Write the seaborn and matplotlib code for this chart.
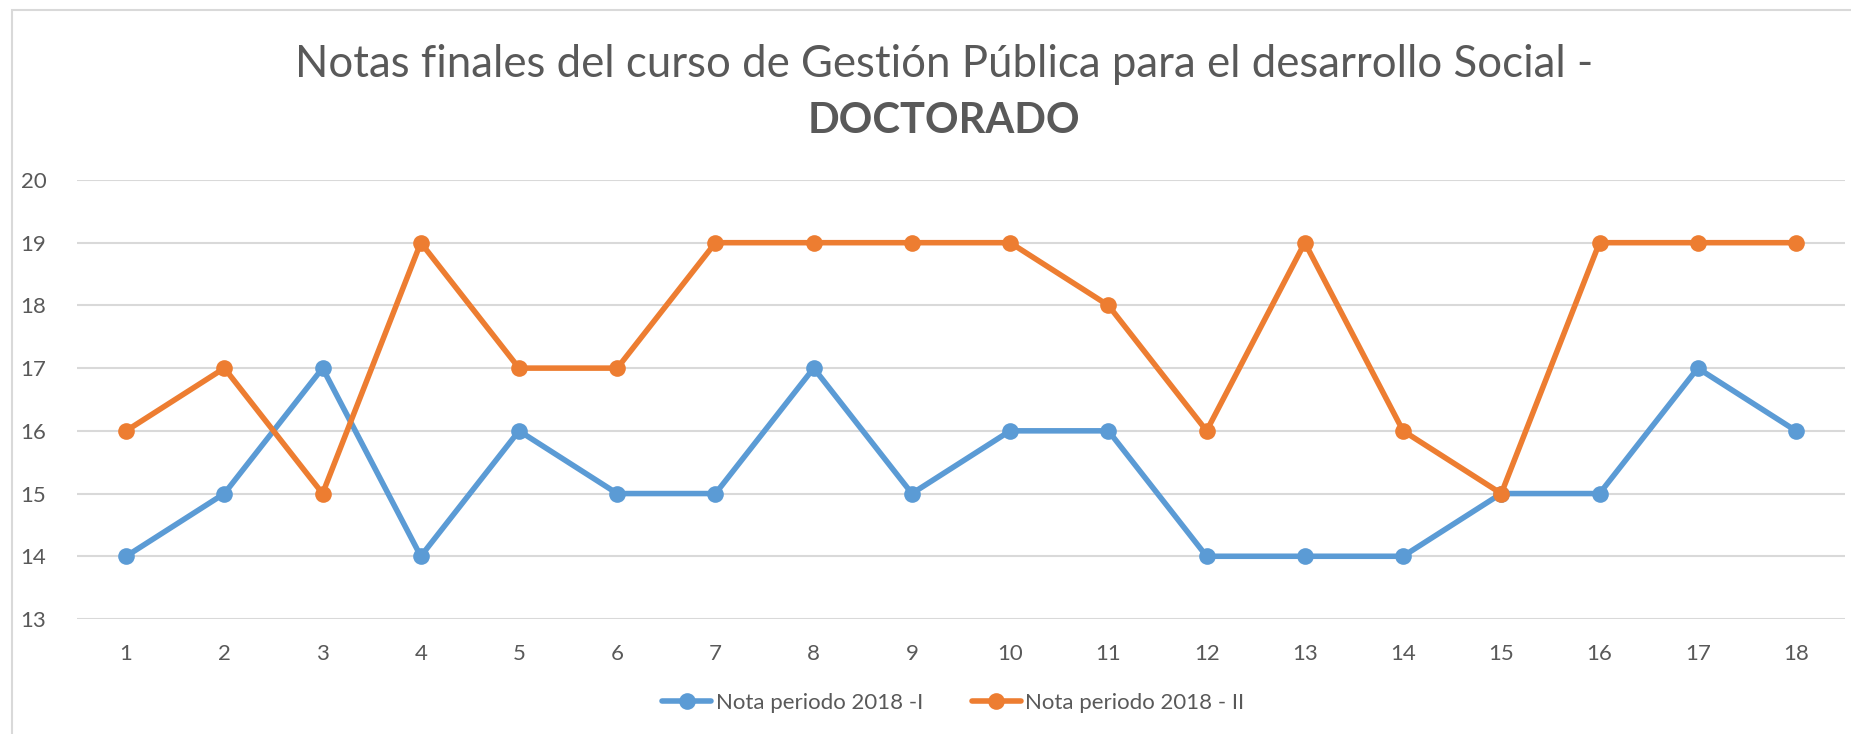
import pandas as pd
import matplotlib.pyplot as plt
import seaborn as sns
from matplotlib.patches import Rectangle

# values
alumnos = list(range(1, 19))
nota_2018_i = [14, 15, 17, 14, 16, 15, 15, 17, 15, 16, 16, 14, 14, 14, 15, 15, 17, 16]
nota_2018_ii = [16, 17, 15, 19, 17, 17, 19, 19, 19, 19, 18, 16, 19, 16, 15, 19, 19, 19]
series = ['Nota periodo 2018 -I', 'Nota periodo 2018 - II']
colores = ['#5B9BD5', '#ED7D31']

df = pd.DataFrame({
    'alumno': alumnos * 2,
    'nota': nota_2018_i + nota_2018_ii,
    'serie': [series[0]] * len(alumnos) + [series[1]] * len(alumnos),
})

sns.set_style('white')
plt.rcParams['font.family'] = ['Lato', 'DejaVu Sans']
texto = '#595959'

fig = plt.figure(figsize=(18.51, 7.34), dpi=100)
ax = fig.add_axes([0.0416, 0.1567, 0.9552, 0.5981])

sns.lineplot(data=df, x='alumno', y='nota', hue='serie', palette=colores,
             marker='o', markersize=12, markeredgewidth=0, linewidth=4,
             ax=ax, legend=False)

ax.set_xlim(0.5, 18.5)
ax.set_ylim(13, 20)
ax.set_xticks(alumnos)
ax.set_yticks(range(13, 21))
ax.grid(axis='y', color='#D9D9D9', linewidth=1.5)
ax.set_axisbelow(True)
for s in ax.spines.values():
    s.set_visible(False)
ax.tick_params(axis='both', length=0, labelsize=16, labelcolor=texto)
ax.tick_params(axis='x', pad=18)
ax.tick_params(axis='y', pad=22)
ax.set_xlabel('')
ax.set_ylabel('')

# chart frame (only top and left edges are visible in the crop)
fig.patches.append(Rectangle((12 / 1851, -0.1), 1.2, 0.1 + 724 / 734,
                             transform=fig.transFigure, fill=False,
                             edgecolor='#D9D9D9', linewidth=1.5))

fig.text(0.51, 0.912, 'Notas finales del curso de Gestión Pública para el desarrollo Social -',
         ha='center', va='center', fontsize=31.5, color=texto)
fig.text(0.51, 0.835, 'DOCTORADO', ha='center', va='center', fontsize=30,
         color=texto, fontweight='bold')

handles = [plt.Line2D([], [], color=c, linewidth=4, marker='o', markersize=12,
                      markeredgewidth=0) for c in colores]
fig.legend(handles, series, loc='center', bbox_to_anchor=(0.515, 0.042), ncol=2,
           frameon=False, fontsize=16, labelcolor=texto, handlelength=2.2,
           handletextpad=0.2, columnspacing=2.2)

fig.savefig('out.png', dpi=100)
